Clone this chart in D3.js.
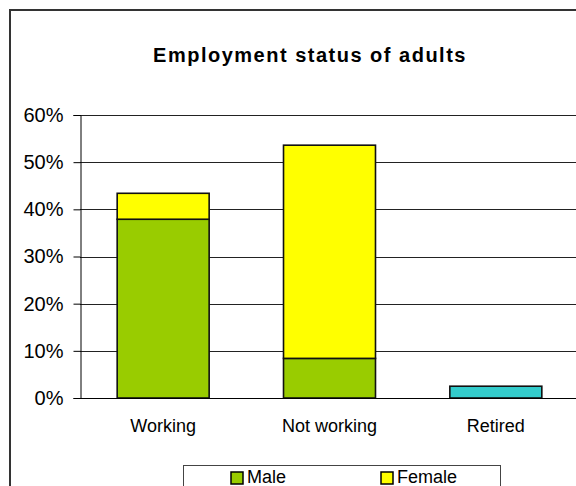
<!DOCTYPE html>
<html>
<head>
<meta charset="utf-8">
<script src="https://cdn.jsdelivr.net/npm/d3@7/dist/d3.min.js"></script>
<style>
  html, body { margin: 0; padding: 0; background: #fff; }
  svg { display: block; font-family: "Liberation Sans", Arial, sans-serif; }
</style>
</head>
<body>
<svg id="chart" width="576" height="486"></svg>
<script>
// Employment status, stacked by sex (percent of adults)
const categories = ["Working", "Not working", "Retired"];
const male = [37.9, 8.4, 0];
const female = [5.5, 45.2, 0];
const retired = [0, 0, 2.5];
const yTicks = [0, 10, 20, 30, 40, 50, 60];
const seriesNames = ["Male", "Female", "Retired"];
const seriesColors = ["#99CC00", "#FFFF00", "#33CCCC"];
const legendNames = ["Male", "Female"];

const svg = d3.select("#chart");

// outer chart frame (runs off the right and bottom edges)
svg.append("rect")
  .attr("x", 10).attr("y", 10)
  .attr("width", 620).attr("height", 520)
  .attr("fill", "#fff")
  .attr("stroke", "#333").attr("stroke-width", 2);

// title
svg.append("text")
  .attr("x", 310).attr("y", 62)
  .attr("text-anchor", "middle")
  .attr("font-weight", "bold")
  .attr("font-size", 20)
  .attr("letter-spacing", 1.5)
  .attr("fill", "#000")
  .text("Employment status of adults");

const plot = { left: 80, right: 579, top: 115, bottom: 398 };

const x = d3.scaleBand()
  .domain(categories)
  .range([plot.left, plot.right])
  .paddingInner(0.447)
  .paddingOuter(0.2235);

const y = d3.scaleLinear()
  .domain([0, 60])
  .range([plot.bottom, plot.top]);

// horizontal gridlines
svg.append("g")
  .selectAll("line")
  .data(yTicks.filter(t => t > 0))
  .join("line")
  .attr("x1", plot.left).attr("x2", 576)
  .attr("y1", d => Math.round(y(d)) + 0.5)
  .attr("y2", d => Math.round(y(d)) + 0.5)
  .attr("stroke", "#222").attr("stroke-width", 1);

// y axis
const yAxis = svg.append("g")
  .attr("transform", `translate(${plot.left + 0.5},0)`)
  .call(d3.axisLeft(y).tickValues(yTicks).tickFormat(d => d + "%").tickSize(7).tickPadding(10));
yAxis.select(".domain").attr("stroke", "#000");
yAxis.selectAll(".tick line").attr("stroke", "#000");
yAxis.selectAll(".tick text")
  .attr("font-size", 20)
  .attr("font-family", "Liberation Sans, Arial, sans-serif")
  .attr("fill", "#000");

// stacked series
const rows = categories.map((c, i) => ({ category: c, Male: male[i], Female: female[i], Retired: retired[i] }));
const stacked = d3.stack().keys(seriesNames)(rows);

svg.append("g")
  .selectAll("g")
  .data(stacked)
  .join("g")
  .attr("fill", (d, i) => seriesColors[i])
  .selectAll("rect")
  .data(d => d.filter(p => p[1] - p[0] > 0))
  .join("rect")
  .attr("x", d => x(d.data.category))
  .attr("width", x.bandwidth())
  .attr("y", d => y(d[1]))
  .attr("height", d => y(d[0]) - y(d[1]))
  .attr("stroke", "#111")
  .attr("stroke-width", 1.6);

// x axis baseline and category labels
svg.append("line")
  .attr("x1", plot.left).attr("x2", 576)
  .attr("y1", plot.bottom + 0.5).attr("y2", plot.bottom + 0.5)
  .attr("stroke", "#000").attr("stroke-width", 1);

svg.append("g")
  .selectAll("text")
  .data(categories)
  .join("text")
  .attr("x", d => x(d) + x.bandwidth() / 2)
  .attr("y", 432)
  .attr("text-anchor", "middle")
  .attr("font-size", 18)
  .attr("fill", "#000")
  .text(d => d);

// legend
const legend = svg.append("g");
legend.append("rect")
  .attr("x", 183.5).attr("y", 465.5)
  .attr("width", 317).attr("height", 60)
  .attr("fill", "#fff")
  .attr("stroke", "#444").attr("stroke-width", 1);

const legendX = [231, 381];
const items = legend.selectAll("g.item")
  .data(legendNames)
  .join("g")
  .attr("class", "item")
  .attr("transform", (d, i) => `translate(${legendX[i]},472)`);
items.append("rect")
  .attr("width", 12).attr("height", 12)
  .attr("fill", d => seriesColors[seriesNames.indexOf(d)])
  .attr("stroke", "#000").attr("stroke-width", 1.5);
items.append("text")
  .attr("x", 16).attr("y", 11)
  .attr("font-size", 18)
  .attr("fill", "#000")
  .text(d => d);
</script>
</body>
</html>
